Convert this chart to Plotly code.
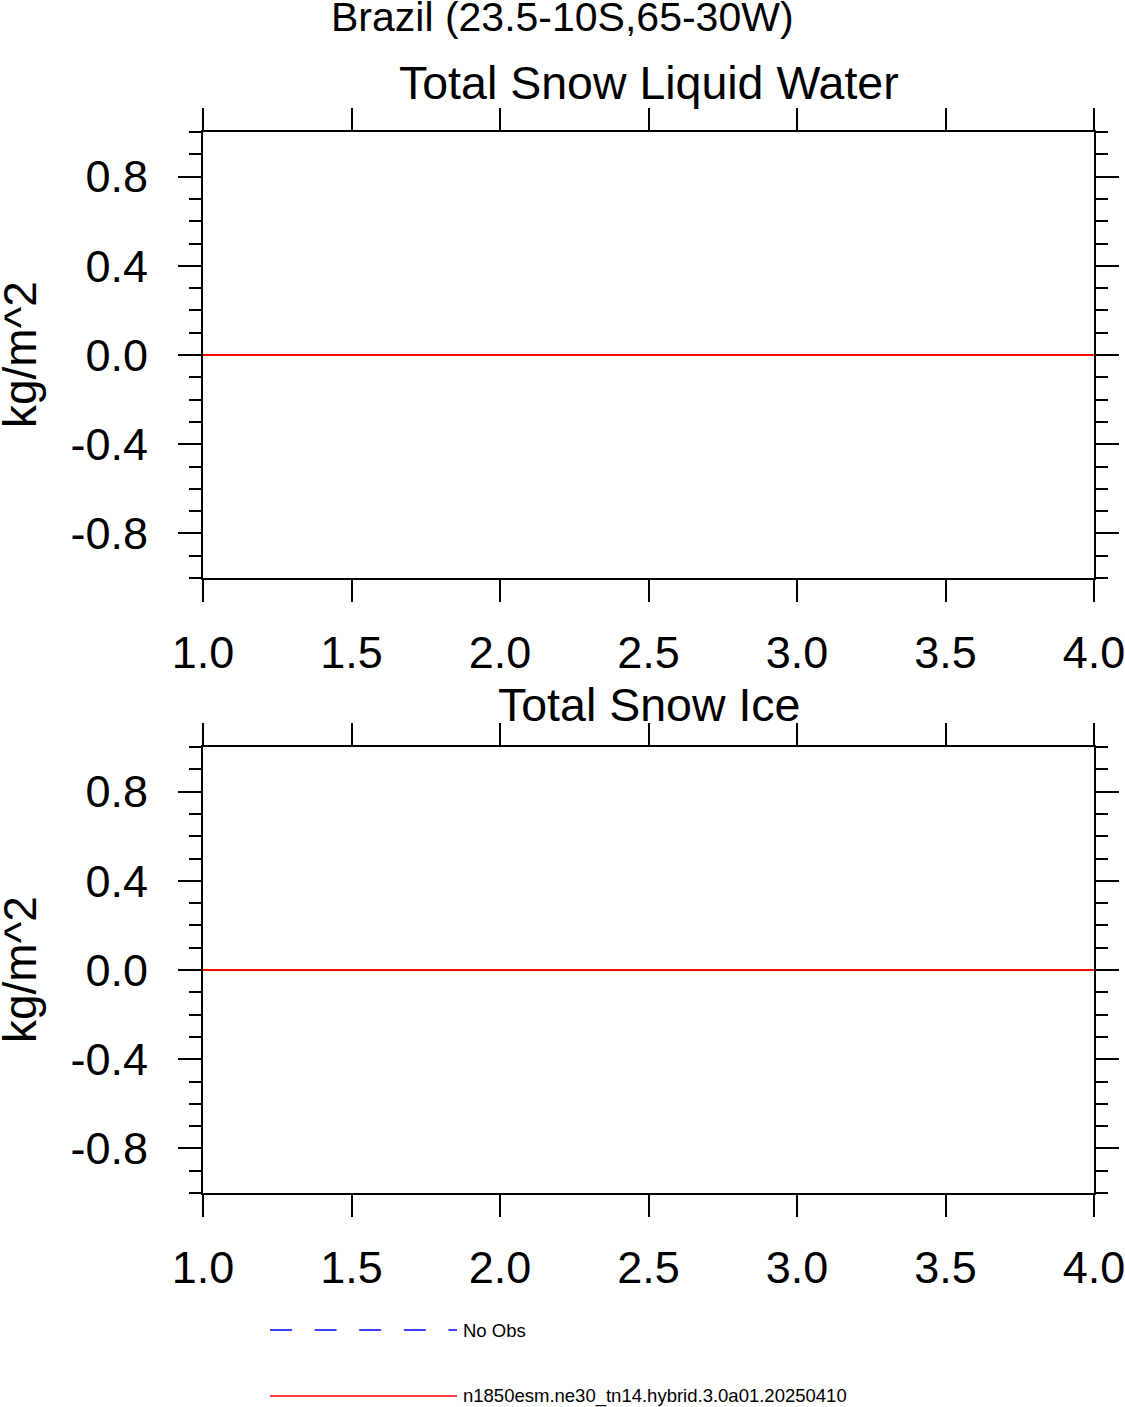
import plotly.graph_objects as go
from plotly.subplots import make_subplots

# ── data ─────────────────────────────────────────────────────
years = [1, 2, 3, 4]
snow_liquid_water = [0.0, 0.0, 0.0, 0.0]   # kg/m^2
snow_ice = [0.0, 0.0, 0.0, 0.0]            # kg/m^2

panel_titles = ["Total Snow Liquid Water", "Total Snow Ice"]
main_title = "Brazil (23.5-10S,65-30W)"
y_label = "kg/m^2"

x_tickvals = [1.0, 1.5, 2.0, 2.5, 3.0, 3.5, 4.0]
x_ticktext = ["1.0", "1.5", "2.0", "2.5", "3.0", "3.5", "4.0"]
y_tickvals = [-0.8, -0.4, 0.0, 0.4, 0.8]
y_ticktext = ["-0.8", "-0.4", "0.0", "0.4", "0.8"]

legend_labels = ["No Obs", "n1850esm.ne30_tn14.hybrid.3.0a01.20250410"]
legend_colors = ["blue", "red"]
legend_dash = ["22px,22.6px", "solid"]

model_color = "red"

# ── layout constants (pixels on the 1125 x 1407 page) ───────
W, H = 1125, 1407
FONT = "Liberation Sans"
x0_px, x1_px = 203, 1094
panels_px = [(132, 578), (747, 1193)]
title_gap_px = [49, 42]      # panel title centre above the panel top


def px_x(p):
    return p / W


def px_y(p):
    return 1 - p / H


fig = make_subplots(rows=2, cols=1)

series = [snow_liquid_water, snow_ice]
for i, vals in enumerate(series):
    fig.add_trace(go.Scatter(
        x=years, y=vals, mode="lines",
        line=dict(color=model_color, width=2),
        showlegend=False, hoverinfo="skip",
    ), row=i + 1, col=1)

for i, (top, bot) in enumerate(panels_px):
    xa = "xaxis" if i == 0 else f"xaxis{i + 1}"
    ya = "yaxis" if i == 0 else f"yaxis{i + 1}"
    fig.layout[xa].update(
        domain=[px_x(x0_px), px_x(x1_px)],
        range=[1, 4], automargin=False,
        tickmode="array", tickvals=x_tickvals, ticktext=x_ticktext,
        ticks="outside", ticklen=22, tickwidth=2, tickcolor="black",
        showline=True, linewidth=2, linecolor="black", mirror="allticks",
        showgrid=False, zeroline=False,
        tickfont=dict(family=FONT, size=45, color="black"),
        ticklabelstandoff=12, ticklabeloverflow="allow",
    )
    fig.layout[ya].update(
        domain=[px_y(bot), px_y(top)],
        range=[-1, 1], automargin=False,
        tickmode="array", tickvals=y_tickvals, ticktext=y_ticktext,
        ticks="outside", ticklen=23, tickwidth=2, tickcolor="black",
        minor=dict(tickmode="linear", tick0=0, dtick=0.1, ticklen=12,
                   tickwidth=2, tickcolor="black", ticks="outside", showgrid=False),
        showline=True, linewidth=2, linecolor="black", mirror="allticks",
        showgrid=False, zeroline=False,
        tickfont=dict(family=FONT, size=45, color="black"),
        ticklabelstandoff=21, ticklabeloverflow="allow",
    )

    # panel title
    fig.add_annotation(
        x=px_x((x0_px + x1_px) / 2), y=px_y(top - title_gap_px[i]),
        xref="paper", yref="paper", xanchor="center", yanchor="middle",
        text=panel_titles[i], showarrow=False,
        font=dict(family=FONT, size=46.5, color="black"),
    )
    # y axis label
    fig.add_annotation(
        x=px_x(20), y=px_y((top + bot) / 2),
        xref="paper", yref="paper", xanchor="center", yanchor="middle",
        text=y_label, textangle=-90, showarrow=False,
        font=dict(family=FONT, size=46, color="black"),
    )

# main title
fig.add_annotation(
    x=0.5, y=px_y(17), xref="paper", yref="paper",
    xanchor="center", yanchor="middle",
    text=main_title, showarrow=False,
    font=dict(family=FONT, size=41, color="black"),
)

# legend drawn below the panels
legend_rows_px = [1330, 1396]
for label, color, dash, ypx in zip(legend_labels, legend_colors, legend_dash, legend_rows_px):
    fig.add_shape(
        type="line", xref="paper", yref="paper",
        x0=px_x(270), x1=px_x(457), y0=px_y(ypx), y1=px_y(ypx),
        line=dict(color=color, width=1.5, dash=dash),
    )
    fig.add_annotation(
        x=px_x(461), y=px_y(ypx), xref="paper", yref="paper",
        xanchor="left", yanchor="middle", text=label, showarrow=False,
        font=dict(family=FONT, size=18.5, color="black"),
    )

fig.update_layout(
    width=W, height=H,
    margin=dict(l=0, r=0, t=0, b=0, autoexpand=False),
    paper_bgcolor="white", plot_bgcolor="white",
    showlegend=False,
)

# drop the default body margin so the figure sits at the page corner
fig.write_html(
    "out.html",
    config={"displayModeBar": False},
    post_script="document.body.style.margin = '0';",
)
